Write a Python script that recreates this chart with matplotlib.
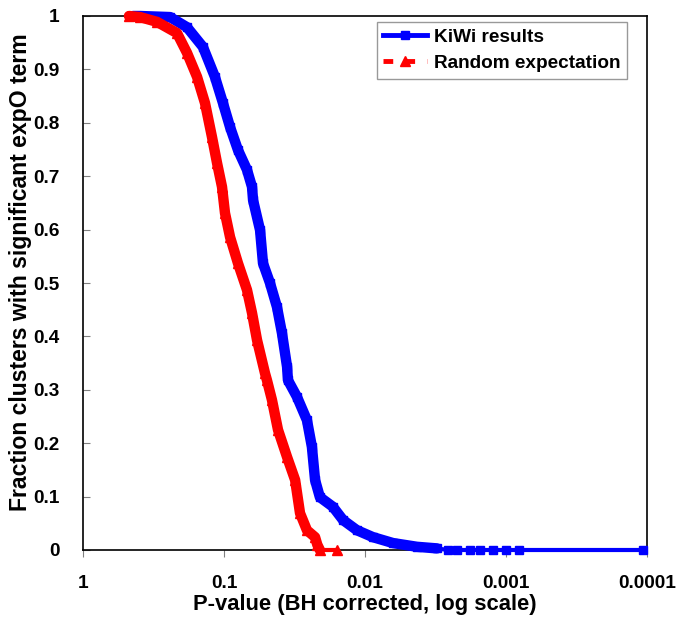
import matplotlib.pyplot as plt
from matplotlib.lines import Line2D

plt.rcParams['font.family'] = ['Liberation Sans', 'DejaVu Sans']
plt.rcParams['font.weight'] = 'bold'

# KiWi results: BH corrected p-value vs fraction of clusters
kiwi_p = [0.442, 0.394, 0.2415, 0.183, 0.141, 0.116, 0.1017, 0.0906, 0.0796,
          0.0687, 0.0633, 0.0622, 0.0555, 0.0529, 0.0472, 0.0421, 0.0388,
          0.0357, 0.0352, 0.0304, 0.0258, 0.0238, 0.0226, 0.0209, 0.0169,
          0.0143, 0.0114, 0.00877, 0.00633, 0.00428, 0.00309, 0.00258,
          0.00223, 0.0018, 0.00153, 0.00124, 0.00100, 0.00081, 0.000107]
kiwi_frac = [1.0, 1.0, 0.998, 0.979, 0.942, 0.886, 0.837, 0.792, 0.749,
             0.712, 0.680, 0.655, 0.599, 0.537, 0.5, 0.455, 0.406,
             0.343, 0.318, 0.287, 0.243, 0.193, 0.131, 0.099, 0.081,
             0.056, 0.037, 0.024, 0.013, 0.006, 0.003, 0.0,
             0.0, 0.0, 0.0, 0.0, 0.0, 0.0, 0.0]

# Random expectation
rand_p = [0.472, 0.394, 0.2986, 0.2155, 0.183, 0.1553, 0.1364, 0.1216, 0.1121,
          0.1033, 0.0984, 0.0906, 0.0796, 0.0687, 0.0633, 0.0583, 0.0512,
          0.0496, 0.0457, 0.0414, 0.0357, 0.0313, 0.0289, 0.0258, 0.0226,
          0.0218, 0.0209, 0.0158]
rand_frac = [1.0, 0.998, 0.989, 0.968, 0.931, 0.886, 0.837, 0.773, 0.725,
             0.680, 0.631, 0.586, 0.537, 0.487, 0.444, 0.393, 0.331,
             0.318, 0.281, 0.225, 0.174, 0.131, 0.069, 0.037, 0.024,
             0.01, 0.0, 0.0]

x_ticks = [1, 0.1, 0.01, 0.001, 0.0001]
x_tick_labels = ['1', '0.1', '0.01', '0.001', '0.0001']
y_ticks = [0, 0.1, 0.2, 0.3, 0.4, 0.5, 0.6, 0.7, 0.8, 0.9, 1]
y_tick_labels = ['0', '0.1', '0.2', '0.3', '0.4', '0.5', '0.6', '0.7', '0.8', '0.9', '1']

# the dense part of each curve looks like a solid band in the original
kiwi_dense = 31
rand_dense = 27

fig = plt.figure(figsize=(6.77, 6.25), dpi=100)
ax = fig.add_axes([0.1226, 0.12, 0.8331, 0.8544])

ax.plot(kiwi_p[:kiwi_dense], kiwi_frac[:kiwi_dense], color='#0000ff', linewidth=7.5,
        solid_capstyle='round', solid_joinstyle='round', clip_on=False, zorder=3)
ax.plot(kiwi_p, kiwi_frac, color='#0000ff', linewidth=3, marker='s',
        markersize=6.2, clip_on=False, zorder=3)
ax.plot(rand_p[:rand_dense], rand_frac[:rand_dense], color='#ff0000', linewidth=7.5,
        solid_capstyle='round', solid_joinstyle='round', clip_on=False, zorder=4)
ax.plot(rand_p, rand_frac, color='#ff0000', linewidth=3, marker='^',
        markersize=7, clip_on=False, zorder=4)

ax.set_xscale('log')
ax.set_xlim(1, 0.0001)
ax.set_ylim(0, 1)
ax.set_xticks(x_ticks)
ax.set_xticklabels(x_tick_labels)
ax.minorticks_off()
ax.set_yticks(y_ticks)
ax.set_yticklabels(y_tick_labels)

ax.tick_params(axis='x', direction='out', length=5, width=0.8, color='#808080',
               labelsize=13.7, pad=13)
ax.tick_params(axis='y', direction='in', length=5, width=0.8, color='#808080',
               labelsize=13.7, pad=17)
for s in ax.spines.values():
    s.set_linewidth(1.2)
    s.set_color('black')

ax.set_xlabel('P-value (BH corrected, log scale)', fontsize=15.8, fontweight='bold',
              labelpad=1.5)
ax.set_ylabel('Fraction clusters with significant expO term', fontsize=16.6,
              fontweight='bold')
ax.yaxis.set_label_coords(-0.091, 0.52)

handles = [Line2D([], [], color='#0000ff', linewidth=3.5, marker='s', markersize=6),
           Line2D([], [], color='#ff0000', linewidth=3.5, linestyle='--',
                  dashes=(2, 2.5), marker='^', markersize=6.5)]
leg = ax.legend(handles, ['KiWi results', 'Random expectation'],
                loc='upper right', bbox_to_anchor=(0.9645, 0.9888), borderaxespad=0,
                fontsize=13.7, frameon=True, fancybox=False, handlelength=2.3,
                borderpad=0.35, labelspacing=0.45, handletextpad=0.35)
leg.get_frame().set_edgecolor('#808080')
leg.get_frame().set_linewidth(1)
for t in leg.get_texts():
    t.set_fontweight('bold')

fig.savefig('out.png', dpi=100)
